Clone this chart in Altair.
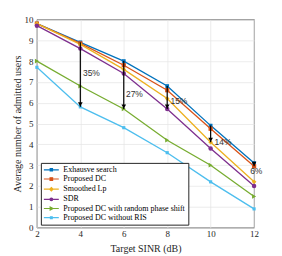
import altair as alt
import pandas as pd

sinr = [2, 4, 6, 8, 10, 12]
series_names = [
    "Exhausve search",
    "Proposed DC",
    "Smoothed Lp",
    "SDR",
    "Proposed DC with random phase shift",
    "Proposed DC without RIS",
]
exhaustive = [9.8, 8.9, 8.0, 6.8, 4.9, 3.1]
proposed_dc = [9.8, 8.85, 7.8, 6.6, 4.75, 2.95]
smoothed_lp = [9.8, 8.8, 7.6, 6.2, 4.1, 2.2]
sdr = [9.7, 8.6, 7.4, 5.7, 3.8, 2.0]
random_phase = [8.0, 6.8, 5.7, 4.2, 3.0, 1.5]
without_ris = [7.7, 5.8, 4.8, 3.6, 2.2, 0.9]
all_values = [exhaustive, proposed_dc, smoothed_lp, sdr, random_phase, without_ris]

colors = ["#0072BD", "#D95319", "#EDB120", "#7E2F8E", "#77AC30", "#4DBEEE"]
plot_shapes = ["square", "square", "diamond", "circle", "triangle-right", "square"]
plot_sizes = [14, 18, 22, 20, 22, 10]
legend_shapes = [
    "M-2.5,0H2.5M-0.38,-0.38H0.38V0.38H-0.38Z",
    "M-2.5,0H2.5M-0.42,-0.42H0.42V0.42H-0.42Z",
    "M-2.5,0H2.5M0,-0.55L0.55,0L0,0.55L-0.55,0Z",
    "M-2.5,0H2.5M-0.45,0A0.45,0.45 0 1,0 0.45,0A0.45,0.45 0 1,0 -0.45,0Z",
    "M-2.5,0H2.5M-0.38,-0.48L0.55,0L-0.38,0.48Z",
    "M-2.5,0H2.5M-0.3,-0.3H0.3V0.3H-0.3Z",
]

arrow_x = [4, 6, 8, 10, 12]
arrow_top = [8.9, 8.0, 6.8, 4.9, 3.1]
arrow_bottom = [5.8, 5.7, 5.7, 4.1, 2.95]
gain_labels = ["35%", "27%", "15%", "14%", "6%"]
label_x = [4.12, 6.1, 8.15, 10.18, 11.82]
label_y = [7.45, 6.4, 6.1, 4.12, 2.72]

rows = []
for name, vals in zip(series_names, all_values):
    for s, v in zip(sinr, vals):
        rows.append({"sinr": s, "value": v, "series": name})
df = pd.DataFrame(rows)

arrows = pd.DataFrame({"x": arrow_x, "top": arrow_top, "bottom": arrow_bottom})
labels = pd.DataFrame({"x": label_x, "y": label_y, "text": gain_labels})

xscale = alt.Scale(domain=[2, 12], nice=False)
yscale = alt.Scale(domain=[0, 10], nice=False)
xaxis = alt.Axis(values=sinr, title="Target SINR (dB)", format="d", labelOverlap=False, labelFlush=False)
yaxis = alt.Axis(values=list(range(0, 11)), title="Average number of admitted users",
                 format="d", labelOverlap=False, labelFlush=False)


def X(field):
    return alt.X(field, type="quantitative", scale=xscale, axis=xaxis)


def Y(field):
    return alt.Y(field, type="quantitative", scale=yscale, axis=yaxis)


series_layers = []
for name, col in zip(series_names, colors):
    series_layers.append(
        alt.Chart(df)
        .transform_filter(alt.datum.series == name)
        .mark_line(strokeWidth=1.3, color=col)
        .encode(x=X("sinr"), y=Y("value"))
    )
for name, shp, col, sz in zip(series_names, plot_shapes, colors, plot_sizes):
    series_layers.append(
        alt.Chart(df)
        .transform_filter(alt.datum.series == name)
        .mark_point(shape=shp, filled=True, color=col, size=sz, opacity=1)
        .encode(x=X("sinr"), y=Y("value"))
    )

legend_layer = alt.Chart(df).transform_filter("datum.value < -100").mark_point(
    filled=True, opacity=1
).encode(
    x=X("sinr"),
    y=Y("value"),
    fill=alt.Fill("series:N", scale=alt.Scale(domain=series_names, range=colors), title=None),
    stroke=alt.Stroke("series:N", scale=alt.Scale(domain=series_names, range=colors), title=None),
    shape=alt.Shape(
        "series:N",
        scale=alt.Scale(domain=series_names, range=legend_shapes),
        title=None,
        legend=alt.Legend(
            orient="none",
            legendX=4,
            legendY=144,
            symbolSize=36,
            symbolOffset=3.5,
            symbolStrokeWidth=1.2,
            labelFont="Liberation Serif",
            labelFontSize=8.0,
            labelColor="#000000",
            labelLimit=200,
            labelOffset=8,
            rowPadding=1.2,
            padding=3,
            strokeColor="#262626",
            fillColor="#ffffff",
            symbolOpacity=1,
        ),
    ),
)

arrow_lines = alt.Chart(arrows).mark_rule(color="#000000", strokeWidth=1.2).encode(
    x=X("x"), y=Y("top"), y2="bottom:Q"
)

arrow_heads = alt.Chart(arrows).mark_point(
    shape="triangle-down", filled=True, color="#000000", size=22, opacity=1, yOffset=-2.5
).encode(x=X("x"), y=Y("bottom"))

texts = alt.Chart(labels).mark_text(
    align="left", baseline="middle", font="Liberation Sans", fontSize=8.5, color="#333333"
).encode(x=X("x"), y=Y("y"), text="text:N")

chart = alt.layer(*series_layers, arrow_lines, arrow_heads, texts, legend_layer).properties(
    width=218,
    height=209,
    autosize=alt.AutoSizeParams(type="none"),
    padding={"left": 29, "top": 11, "right": 20, "bottom": 28},
).configure_view(
    stroke="#262626", strokeWidth=0.8
).configure_axis(
    domain=False,
    ticks=False,
    grid=True,
    gridColor="#e3e3e3",
    gridWidth=0.7,
    labelFont="Liberation Serif",
    labelFontSize=9,
    labelColor="#262626",
    titleFont="Liberation Serif",
    titleFontSize=10,
    titleFontWeight="normal",
    titleColor="#262626",
).configure_axisY(
    labelPadding=4, titlePadding=1
).configure_axisX(
    labelPadding=2, titlePadding=5
)

chart.save("out.html", embed_options={"renderer": "svg", "actions": False})
